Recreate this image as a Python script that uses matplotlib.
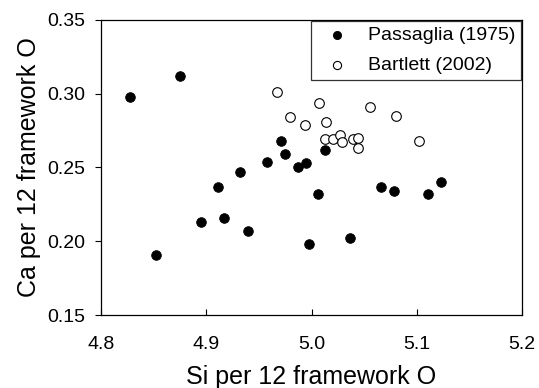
import matplotlib.pyplot as plt

plt.rcParams['font.family'] = ['Liberation Sans', 'DejaVu Sans']

# Passaglia (1975)
pas_si = [4.828, 4.875, 4.971, 4.975, 4.852, 4.895, 4.911, 4.917, 4.932, 4.940,
          4.958, 4.987, 4.995, 5.013, 5.006, 5.066, 5.078, 5.111, 5.123, 4.998, 5.037]
pas_ca = [0.298, 0.312, 0.268, 0.259, 0.191, 0.213, 0.237, 0.216, 0.247, 0.207,
          0.254, 0.250, 0.253, 0.262, 0.232, 0.237, 0.234, 0.232, 0.240, 0.198, 0.202]

# Bartlett (2002)
bar_si = [4.967, 4.980, 5.007, 4.994, 5.014, 5.056, 5.080, 5.102,
          5.013, 5.020, 5.027, 5.029, 5.039, 5.044, 5.044]
bar_ca = [0.301, 0.284, 0.294, 0.279, 0.281, 0.291, 0.285, 0.268,
          0.269, 0.269, 0.272, 0.267, 0.269, 0.270, 0.263]

fig = plt.figure(figsize=(5.39, 3.88), dpi=100)
ax = fig.add_axes([0.1874, 0.1881, 0.7811, 0.7604])

ax.scatter(pas_si, pas_ca, s=48, c='black', edgecolors='black', linewidths=0.6,
           label='Passaglia (1975)', zorder=3)
ax.scatter(bar_si, bar_ca, s=48, c='white', edgecolors='black', linewidths=0.8,
           label='Bartlett (2002)', zorder=3)

ax.set_xlim(4.8, 5.2)
ax.set_ylim(0.15, 0.35)
ax.set_xticks([4.8, 4.9, 5.0, 5.1, 5.2])
ax.set_yticks([0.15, 0.20, 0.25, 0.30, 0.35])
ax.set_xticklabels(['4.8', '4.9', '5.0', '5.1', '5.2'])
ax.set_yticklabels(['0.15', '0.20', '0.25', '0.30', '0.35'])
ax.tick_params(axis='x', direction='in', length=4, labelsize=14, pad=15)
ax.tick_params(axis='y', direction='out', length=4, labelsize=14, pad=7)
for sp in ax.spines.values():
    sp.set_linewidth(0.9)

ax.set_xlabel('Si per 12 framework O', fontsize=18, labelpad=9)
ax.set_ylabel('Ca per 12 framework O', fontsize=18, labelpad=5)

leg = ax.legend(loc='upper right', fontsize=14, frameon=True, fancybox=False,
                borderaxespad=0.05, borderpad=0.3, labelspacing=0.6,
                handletextpad=0.6, handlelength=2.0, markerscale=0.85)
leg.get_frame().set_edgecolor('black')
leg.get_frame().set_linewidth(0.9)

fig.savefig('out.png', dpi=100)
